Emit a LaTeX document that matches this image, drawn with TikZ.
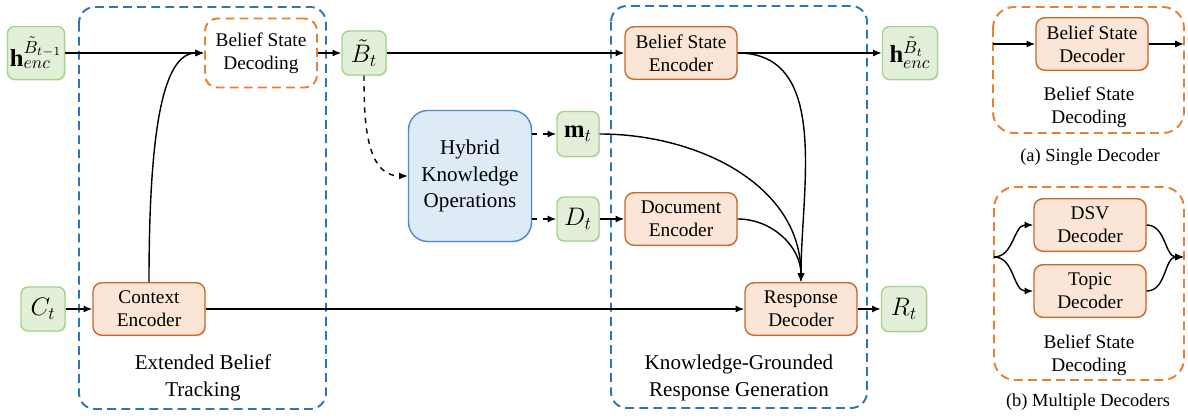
\documentclass[tikz,border=0pt]{standalone}
\usepackage{amsmath}
\usepackage{amssymb}
\usepackage{xcolor}
\usepackage{fontspec}
\setmainfont{Liberation Serif}
\usetikzlibrary{arrows.meta}
\usetikzlibrary{shadows}

\definecolor{grnfill}{HTML}{E2F0D9}
\definecolor{grnline}{HTML}{A9D18E}
\definecolor{orgfill}{HTML}{FBE5D6}
\definecolor{orgline}{HTML}{C8692B}
\definecolor{orgdash}{HTML}{ED7D31}
\definecolor{bluedash}{HTML}{2E75B6}
\definecolor{bluefill}{HTML}{DEEBF7}
\definecolor{blueline}{HTML}{4F8CC9}

\begin{document}
\begin{tikzpicture}[x=0.02cm,y=0.02cm,
    varbox/.style={draw=grnline,fill=grnfill,line width=0.8pt,rounded corners=4pt,
        minimum width=0.88cm,minimum height=0.88cm,inner sep=1pt,
        drop shadow={opacity=0.2,shadow xshift=0.6pt,shadow yshift=-0.6pt},
        font=\fontsize{14}{16}\selectfont},
    blockbox/.style={draw=orgline,fill=orgfill,line width=0.8pt,rounded corners=5pt,
        minimum width=2.24cm,minimum height=1.05cm,inner sep=1pt,align=center,
        drop shadow={opacity=0.2,shadow xshift=0.6pt,shadow yshift=-0.6pt},
        font=\fontsize{11}{13}\selectfont},
    dashbox/.style={draw=orgdash,line width=1.1pt,dash pattern=on 5pt off 3pt,
        rounded corners=7pt,minimum width=2.24cm,minimum height=1.38cm,
        align=center,font=\fontsize{11}{13}\selectfont},
    hybridbox/.style={draw=blueline,fill=bluefill,line width=0.8pt,rounded corners=11pt,
        minimum width=2.46cm,minimum height=2.62cm,align=center,
        drop shadow={opacity=0.2,shadow xshift=0.6pt,shadow yshift=-0.6pt},
        font=\fontsize{12}{15}\selectfont},
    stagebox/.style={draw=bluedash,line width=1.1pt,dash pattern=on 5pt off 3pt,rounded corners=9pt},
    panelbox/.style={draw=orgdash,line width=1.1pt,dash pattern=on 5pt off 3pt,rounded corners=12pt},
    grouptext/.style={align=center,font=\fontsize{12}{15}\selectfont},
    captext/.style={align=center,font=\fontsize{10.5}{12}\selectfont},
    arr/.style={-{Latex[length=5pt,width=4pt]},line width=0.8pt},
    darr/.style={arr,dashed}]

    \useasboundingbox (0,0) rectangle (1188,419);

    % stages
    \draw[stagebox] (79,412) rectangle (326,10);
    \draw[stagebox] (611,413) rectangle (867,11);

    % extended belief tracking
    \node[varbox,minimum width=1.14cm,minimum height=1.06cm] (hprev) at (36,366) {$\mathbf{h}^{\tilde{B}_{t-1}}_{enc}$};
    \node[varbox] (ct) at (43,110) {$C_t$};
    \node[blockbox] (ctxenc) at (149,110) {Context\\Encoder};
    \node[dashbox] (bsd) at (261,366) {Belief State\\Decoding};
    \node[varbox] (bt) at (364,366) {$\tilde{B}_t$};
    \node[grouptext] (ebt) at (203,41) {Extended Belief\\Tracking};

    % knowledge operations
    \node[hybridbox] (hko) at (470,243) {Hybrid\\Knowledge\\Operations};
    \node[varbox,minimum width=0.84cm,minimum height=0.9cm] (mt) at (578,285) {$\mathbf{m}_t$};
    \node[varbox,minimum width=0.84cm] (dt) at (578,200) {$D_t$};

    % response generation
    \node[blockbox] (bsenc) at (681,366) {Belief State\\Encoder};
    \node[blockbox] (docenc) at (681,200) {Document\\Encoder};
    \node[blockbox] (respdec) at (801,110) {Response\\Decoder};
    \node[varbox,minimum width=0.9cm,minimum height=0.9cm] (rt) at (904,110) {$R_t$};
    \node[varbox,minimum width=1.1cm,minimum height=1.06cm] (hcur) at (910,366) {$\mathbf{h}^{\tilde{B}_t}_{enc}$};
    \node[grouptext] (kgrg) at (739,41) {Knowledge-Grounded\\Response Generation};

    \draw[arr] (hprev) -- (bsd);
    \draw[arr] (ct) -- (ctxenc);
    \draw[arr] (ctxenc.north) .. controls +(0,158) and +(-40,0) .. (bsd.west);
    \draw[arr] (bsd) -- (bt);
    \draw[arr] (bt) -- (bsenc);
    \draw[arr] (bsenc) -- (hcur);
    \draw[darr] (bt.south) to[out=270,in=180] (hko.west);
    \draw[darr] (hko.east |- mt) -- (mt);
    \draw[darr] (hko.east |- dt) -- (dt);
    \draw[arr] (dt) -- (docenc);
    \draw[arr] (ctxenc) -- (respdec);
    \draw[arr] (respdec) -- (rt);
    \draw[arr] (bsenc.east) to[out=0,in=90] (respdec.north);
    \draw[arr] (mt.east) to[out=0,in=90] (respdec.north);
    \draw[arr] (docenc.east) to[out=0,in=90] (respdec.north);

    % (a) single decoder
    \draw[panelbox] (993,412) rectangle (1184,286);
    \node[blockbox] (bsdec) at (1092,375) {Belief State\\Decoder};
    \coordinate (ain) at (993,375);
    \coordinate (aout) at (1184,375);
    \draw[arr] (ain) -- (bsdec);
    \draw[arr] (bsdec) -- (aout);
    \node[grouptext,font=\fontsize{11}{13}\selectfont] (bsdtxta) at (1089,312) {Belief State\\Decoding};
    \node[captext] (capa) at (1090,262) {(a) Single Decoder};

    % (b) multiple decoders
    \draw[panelbox] (994,232) rectangle (1184,39);
    \node[blockbox] (dsvdec) at (1090,194) {DSV\\Decoder};
    \node[blockbox] (topdec) at (1090,128) {Topic\\Decoder};
    \coordinate (bin) at (994,162);
    \coordinate (bout) at (1184,162);
    \draw[arr] (bin) to[out=0,in=180] (dsvdec.west);
    \draw[arr] (bin) to[out=0,in=180] (topdec.west);
    \draw[arr] (dsvdec.east) to[out=0,in=180] (bout);
    \draw[arr] (topdec.east) to[out=0,in=180] (bout);
    \node[grouptext,font=\fontsize{11}{13}\selectfont] (bsdtxtb) at (1089,64) {Belief State\\Decoding};
    \node[captext] (capb) at (1088,17) {(b) Multiple Decoders};
\end{tikzpicture}
\end{document}
